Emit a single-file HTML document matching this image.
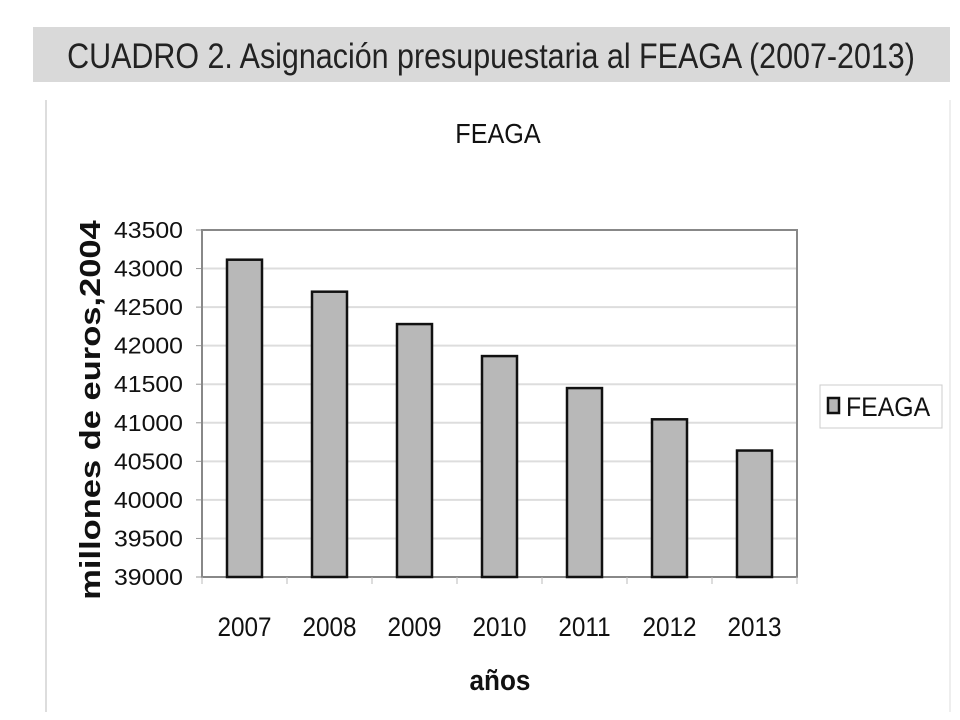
<!DOCTYPE html>
<html><head><meta charset="utf-8"><style>
body{margin:0;background:#fff;}
svg{display:block;font-family:"Liberation Sans",sans-serif;}
</style></head><body>
<svg width="960" height="720" viewBox="0 0 960 720">
<rect x="0" y="0" width="960" height="720" fill="#fff"/>
<rect x="33" y="27" width="917" height="55" fill="#d9d9d9"/>
<text x="491" y="68" text-anchor="middle" font-size="35" fill="#222" transform="translate(491 0) scale(0.87 1) translate(-491 0)">CUADRO 2. Asignación presupuestaria al FEAGA (2007-2013)</text>
<line x1="46" y1="100" x2="46" y2="712" stroke="#ddd" stroke-width="2"/>
<line x1="950" y1="100" x2="950" y2="712" stroke="#eee" stroke-width="2"/>
<text x="498" y="143" text-anchor="middle" font-size="28" fill="#111" transform="translate(498 0) scale(0.9 1) translate(-498 0)">FEAGA</text>
<g id="plot"></g>
<text x="0" y="0" text-anchor="middle" font-size="30" font-weight="bold" fill="#111" transform="translate(100 410) rotate(-90) scale(1.15 0.95)">millones de euros,2004</text>
<text x="500" y="690" text-anchor="middle" font-size="29" font-weight="bold" fill="#111" transform="translate(500 0) scale(0.9 1) translate(-500 0)">años</text>
<g>
<rect x="820" y="385" width="122" height="43" fill="#fff" stroke="#ccc"/>
<rect x="828" y="398" width="11" height="15" fill="#b8b8b8" stroke="#111" stroke-width="2.5"/>
<text x="846" y="416" font-size="27" fill="#111" transform="translate(846 0) scale(0.92 1) translate(-846 0)">FEAGA</text>
</g>
</svg>
<script>
const categories=["2007","2008","2009","2010","2011","2012","2013"];
const values=[43115,42700,42280,41865,41450,41045,40640];
const yTicks=[39000,39500,40000,40500,41000,41500,42000,42500,43000,43500];
const yMin=39000,yMax=43500;
const L=202,R=797,T=230,B=577;
const ns="http://www.w3.org/2000/svg";
const g=document.getElementById('plot');
function y(v){return B-(v-yMin)/(yMax-yMin)*(B-T);}
const bw=(R-L)/categories.length;
function x(i){return L+bw*(i+0.5);}
function mk(t,a){const e=document.createElementNS(ns,t);for(const k in a)e.setAttribute(k,a[k]);g.appendChild(e);return e;}
yTicks.forEach(v=>{
  if(v!==yMin&&v!==yMax){const l=mk('line',{x1:L,x2:R,y1:y(v),y2:y(v),stroke:'#ddd','stroke-width':2});
  
  }
  const tk=mk('line',{x1:L-6,x2:L,y1:y(v),y2:y(v),stroke:'#999'});
  
  
  const t=mk('text',{x:183,y:y(v)+8,'text-anchor':'end','font-size':23,fill:'#111',transform:`translate(183 0) scale(1.08 1) translate(-183 0)`});
  t.textContent=v;
  
  
});
const frame=mk('rect',{x:L,y:T,width:R-L,height:B-T,fill:'none',stroke:'#888','stroke-width':2});


for(let i=0;i<=categories.length;i++){
  const tk=mk('line',{x1:L+bw*i,x2:L+bw*i,y1:B,y2:B+7,stroke:'#bbb'});
  
  
}
categories.forEach((c,i)=>{
  const w=35;
  const b=mk('rect',{x:x(i)-w/2,y:y(values[i]),width:w,height:B-y(values[i]),fill:'#b8b8b8',stroke:'#111','stroke-width':2.5});
  
  
  const t=mk('text',{x:x(i),y:636,'text-anchor':'middle','font-size':27,fill:'#111',transform:`translate(${x(i)} 0) scale(0.9 1) translate(${-x(i)} 0)`});
  t.textContent=c;
  
  
});
</script>
</body></html>
